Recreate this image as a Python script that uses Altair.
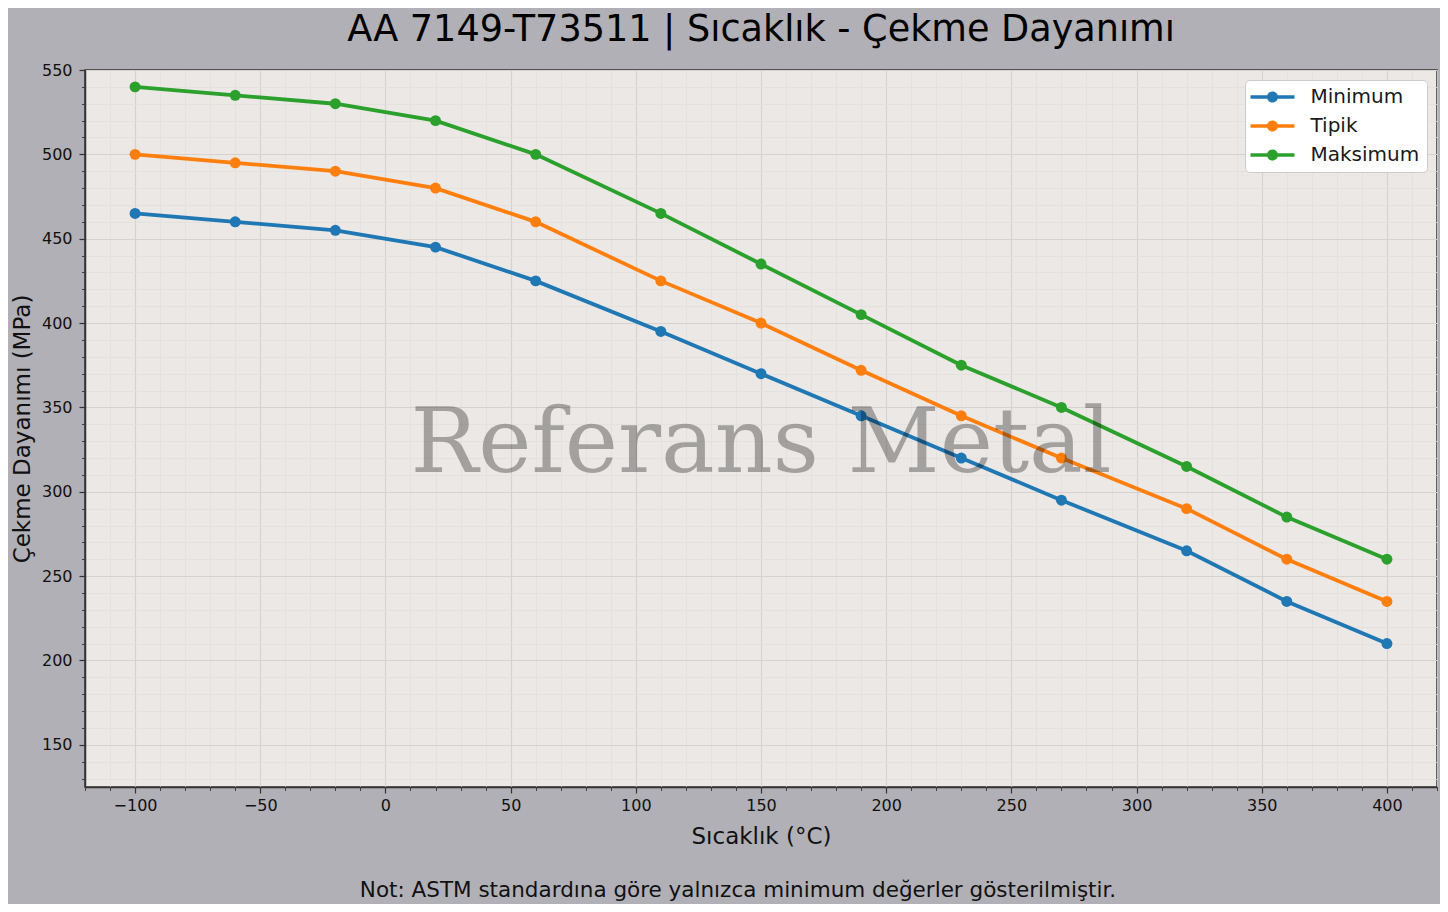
import pandas as pd
import altair as alt

# Sıcaklık (°C) ve çekme dayanımı (MPa) değerleri
SICAKLIK = [-100, -60, -20, 20, 60, 110, 150, 190, 230, 270, 320, 360, 400]
MINIMUM = [465, 460, 455, 445, 425, 395, 370, 345, 320, 295, 265, 235, 210]
TIPIK = [500, 495, 490, 480, 460, 425, 400, 372, 345, 320, 290, 260, 235]
MAKSIMUM = [540, 535, 530, 520, 500, 465, 435, 405, 375, 350, 315, 285, 260]

SERIES = ["Minimum", "Tipik", "Maksimum"]
COLORS = ["#1f77b4", "#ff7f0e", "#2ca02c"]

X_TICKS = list(range(-120, 421, 10))
Y_TICKS = list(range(130, 551, 10))

TITLE = "AA 7149-T73511 | Sıcaklık - Çekme Dayanımı"
WATERMARK = "Referans Metal"
NOTE = "Not: ASTM standardına göre yalnızca minimum değerler gösterilmiştir."

W, H = 1352, 717
FONT = "DejaVu Sans"

df = pd.concat(
    [
        pd.DataFrame({"Sıcaklık": SICAKLIK, "Dayanım": vals, "Seri": name})
        for name, vals in zip(SERIES, [MINIMUM, TIPIK, MAKSIMUM])
    ],
    ignore_index=True,
)


def minor_major(step, major, minor):
    return {"condition": {"test": f"datum.value % {step} === 0", "value": major}, "value": minor}


x_axis = alt.Axis(
    values=X_TICKS,
    labelExpr="datum.value % 50 === 0 ? datum.label : ''",
    tickSize=minor_major(50, 6, 3.5),
    tickWidth=minor_major(50, 1.2, 0.9),
    gridColor=minor_major(50, "#d5d2d0", "#e2dfdd"),
    gridWidth=minor_major(50, 1.2, 0.8),
    labelPadding=4,
    title="Sıcaklık (°C)",
    titlePadding=12,
)
y_axis = alt.Axis(
    values=Y_TICKS,
    labelExpr="datum.value % 50 === 0 ? datum.label : ''",
    tickSize=minor_major(50, 6, 3.5),
    tickWidth=minor_major(50, 1.2, 0.9),
    gridColor=minor_major(50, "#d5d2d0", "#e2dfdd"),
    gridWidth=minor_major(50, 1.2, 0.8),
    labelPadding=7,
    title="Çekme Dayanımı (MPa)",
    titlePadding=7,
)

x_enc = alt.X("Sıcaklık:Q", scale=alt.Scale(domain=[-120, 420], nice=False, zero=False), axis=x_axis)
y_enc = alt.Y("Dayanım:Q", scale=alt.Scale(domain=[125, 550], nice=False, zero=False), axis=y_axis)
color_scale = alt.Scale(domain=SERIES, range=COLORS)

# çizgi + nokta simgesi (lejant için)
LEGEND_SYMBOL = "M-4,-0.3H4V0.3H-4Z M-1,0A1,1 0 1,1 1,0A1,1 0 1,1 -1,0Z"

lines = (
    alt.Chart(df)
    .mark_line(strokeWidth=3.8)
    .encode(
        x=x_enc,
        y=y_enc,
        color=alt.Color("Seri:N", scale=color_scale, legend=None),
        detail="Seri:N",
    )
)

points = (
    alt.Chart(df)
    .mark_point(filled=True, size=120, opacity=1)
    .encode(
        x=x_enc,
        y=y_enc,
        color=alt.Color(
            "Seri:N",
            scale=color_scale,
            sort=SERIES,
            legend=alt.Legend(
                title=None,
                orient="top-right",
                offset=10,
                padding=7,
                fillColor="white",
                strokeColor="#cccccc",
                cornerRadius=4,
                symbolType=LEGEND_SYMBOL,
                symbolSize=121,
                symbolOffset=10.5,
                symbolStrokeWidth=0,
                symbolOpacity=1,
                labelOffset=28,
                labelFontSize=20,
                labelFont=FONT,
                labelColor="#1a1a1a",
                rowPadding=9,
            ),
        ),
    )
)

watermark = (
    alt.Chart(pd.DataFrame({"t": [WATERMARK]}))
    .mark_text(font="DejaVu Serif", fontSize=90, color="black", opacity=0.3,
               align="center", baseline="alphabetic")
    .encode(x=alt.value(W / 2), y=alt.value(402), text="t:N")
)

note = (
    alt.Chart(pd.DataFrame({"t": [NOTE]}))
    .mark_text(font=FONT, fontSize=21.5, color="#111111", align="center", baseline="middle")
    .encode(x=alt.value(653), y=alt.value(821), text="t:N")
)

chart = (
    alt.layer(lines, points, watermark, note)
    .resolve_legend(color="independent")
    .properties(
        width=W,
        height=H,
        autosize=alt.AutoSizeParams(type="none"),
        padding={"left": 77, "top": 62, "right": 3, "bottom": 117},
        background="#b1b0b6",
        title=alt.Title(
            TITLE,
            fontSize=36.6,
            font=FONT,
            fontWeight="normal",
            color="black",
            anchor="middle",
            frame="group",
            offset=13,
        ),
    )
    .configure_view(fill="#ebe8e6", stroke="#333333", strokeWidth=1.5)
    .configure_axis(
        domainColor="#333333",
        domainWidth=1.5,
        tickColor="#333333",
        labelFont=FONT,
        labelFontSize=16,
        labelColor="#111111",
        titleFont=FONT,
        titleFontSize=23,
        titleFontWeight="normal",
        titleColor="#111111",
        labelOverlap=False,
    )
)

chart.save("out.html", embed_options={"renderer": "svg", "actions": False})
